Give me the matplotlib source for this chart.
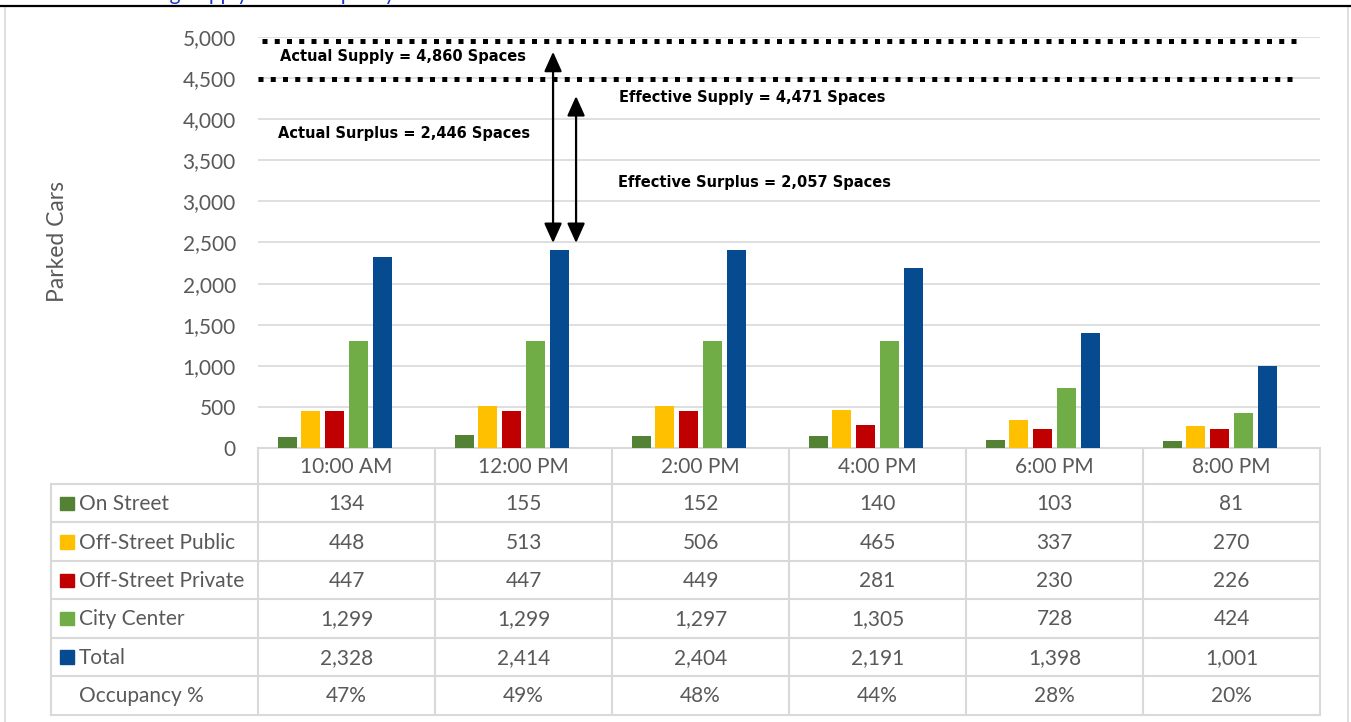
import matplotlib
matplotlib.use("Agg")
import matplotlib.pyplot as plt
from matplotlib.patches import Rectangle

# ---------------- data ----------------
times = ["10:00 AM", "12:00 PM", "2:00 PM", "4:00 PM", "6:00 PM", "8:00 PM"]
series_names = ["On Street", "Off-Street Public", "Off-Street Private", "City Center", "Total"]
on_street = [134, 155, 152, 140, 103, 81]
off_public = [448, 513, 506, 465, 337, 270]
off_private = [447, 447, 449, 281, 230, 226]
city_center = [1299, 1299, 1297, 1305, 728, 424]
total = [2328, 2414, 2404, 2191, 1398, 1001]
occupancy = [47, 49, 48, 44, 28, 20]
colors = ["#548235", "#FFC000", "#C00000", "#70AD47", "#064A8F"]

actual_supply = 4860
effective_supply = 4471
actual_surplus = 2446
effective_surplus = 2057
# drawn positions of the supply lines
actual_line_y = 4950
effective_line_y = 4490

W, H = 1351, 722
plt.rcParams['font.family'] = ['Lato', 'DejaVu Sans']
fig = plt.figure(figsize=(W / 100, H / 100), dpi=100)

# overlay axes in pixel coordinates for frame and table
ov = fig.add_axes([0, 0, 1, 1], zorder=0)
ov.set_xlim(0, W)
ov.set_ylim(H, 0)
ov.axis("off")

grid_c = "#D9D9D9"
text_c = "#595959"

# outer frame
ov.plot([5, 5], [8, H + 5], color=grid_c, lw=1.2)
ov.plot([1348, 1348], [8, H + 5], color=grid_c, lw=1.2)
ov.plot([0, W], [6, 6], color="black", lw=1.6)
ov.text(112, 0, "Parking Supply and Occupancy", color="#1F35C8", fontsize=15,
        ha="left", va="baseline", clip_on=True)

# ---------------- chart ----------------
px_left, px_right, px_top, px_bot = 258, 1320, 37, 448
ax = fig.add_axes([px_left / W, (H - px_bot) / H, (px_right - px_left) / W, (px_bot - px_top) / H], zorder=1)
ax.patch.set_alpha(0)
ax.set_xlim(-0.5, len(times) - 0.5)
ax.set_ylim(0, 5000)
for s in ax.spines.values():
    s.set_visible(False)
ax.set_yticks(range(0, 5001, 500))
ax.set_yticklabels([f"{v:,}" for v in range(0, 5001, 500)], color=text_c, fontsize=15)
ax.tick_params(axis="y", length=0, pad=16)
ax.set_xticks([])
ax.yaxis.grid(True, color=grid_c, lw=1.2)
ax.set_axisbelow(True)
ax.set_ylabel("Parked Cars", color=text_c, fontsize=16.5)
ax.yaxis.set_label_coords((58 - px_left) / (px_right - px_left), (448 - 242) / (px_bot - px_top))
ax.yaxis.label.set_va("center")

slot = 23.7 / 177
bw = 19 / 177
all_series = [on_street, off_public, off_private, city_center, total]
for s, (vals, c) in enumerate(zip(all_series, colors)):
    xs = [i + (s - 2.5) * slot for i in range(len(times))]
    ax.bar(xs, vals, width=bw, color=c, zorder=3)

# supply dotted lines
dot_style = (0, (1, 1.45))
ax.plot([-0.475, 5.376], [actual_line_y] * 2, color="black", lw=3.6, ls=dot_style,
        dash_capstyle="butt", zorder=4, clip_on=False)
ax.plot([-0.5, 5.376], [effective_line_y] * 2, color="black", lw=3.6, ls=dot_style,
        dash_capstyle="butt", zorder=4, clip_on=False)

# arrows
astyle = dict(arrowstyle="<|-|>,head_length=0.6,head_width=0.27", mutation_scale=20,
              lw=1.6, color="black", shrinkA=0, shrinkB=0)
peak = total[1]
ax.annotate("", xy=(1.167, peak + 80), xytext=(1.167, actual_supply - 40),
            arrowprops=astyle, annotation_clip=False)
ax.annotate("", xy=(1.297, peak + 80), xytext=(1.297, effective_supply - 190),
            arrowprops=astyle, annotation_clip=False)

afont = dict(family="DejaVu Sans", fontweight="bold", fontsize=10.5, color="black", va="center", ha="left")
ax.text(-0.376, 4757, f"Actual Supply = {actual_supply:,} Spaces", **afont)
ax.text(1.540, 4258, f"Effective Supply = {effective_supply:,} Spaces", **afont)
ax.text(-0.388, 3832, f"Actual Surplus = {actual_surplus:,} Spaces", **afont)
ax.text(1.535, 3236, f"Effective Surplus = {effective_surplus:,} Spaces", **afont)

# ---------------- table ----------------
col_w = (px_right - px_left) / len(times)
col_edges = [px_left + k * col_w for k in range(len(times) + 1)]
label_left = 51
hdr_top, hdr_bot = 448, 484
row_h = (714.5 - hdr_bot) / 6
row_edges = [hdr_bot + k * row_h for k in range(7)]

lc = dict(color=grid_c, lw=1.5, zorder=2)
ov.plot([px_left, px_right], [hdr_top, hdr_top], **lc)
for y in row_edges:
    ov.plot([label_left, px_right], [y, y], **lc)
for x in col_edges:
    ov.plot([x, x], [hdr_top, row_edges[-1]], **lc)
ov.plot([label_left, label_left], [hdr_bot, row_edges[-1]], **lc)

for i, t in enumerate(times):
    cx = (col_edges[i] + col_edges[i + 1]) / 2
    ov.text(cx, (hdr_top + hdr_bot) / 2 + 1, t, ha="center", va="center", color=text_c, fontsize=15)

row_labels = series_names + ["Occupancy %"]
row_vals = [[f"{v:,}" for v in s] for s in all_series] + [[f"{v}%" for v in occupancy]]
for r, (lab, vals) in enumerate(zip(row_labels, row_vals)):
    cy = (row_edges[r] + row_edges[r + 1]) / 2 + 1
    if r < len(colors):
        ov.add_patch(Rectangle((60, cy - 7.5), 13.5, 13.5, color=colors[r], zorder=3))
    ov.text(79, cy, lab, ha="left", va="center", color=text_c, fontsize=15)
    for i, v in enumerate(vals):
        cx = (col_edges[i] + col_edges[i + 1]) / 2
        ov.text(cx, cy, v, ha="center", va="center", color=text_c, fontsize=15)

fig.savefig("out.png", dpi=100)
